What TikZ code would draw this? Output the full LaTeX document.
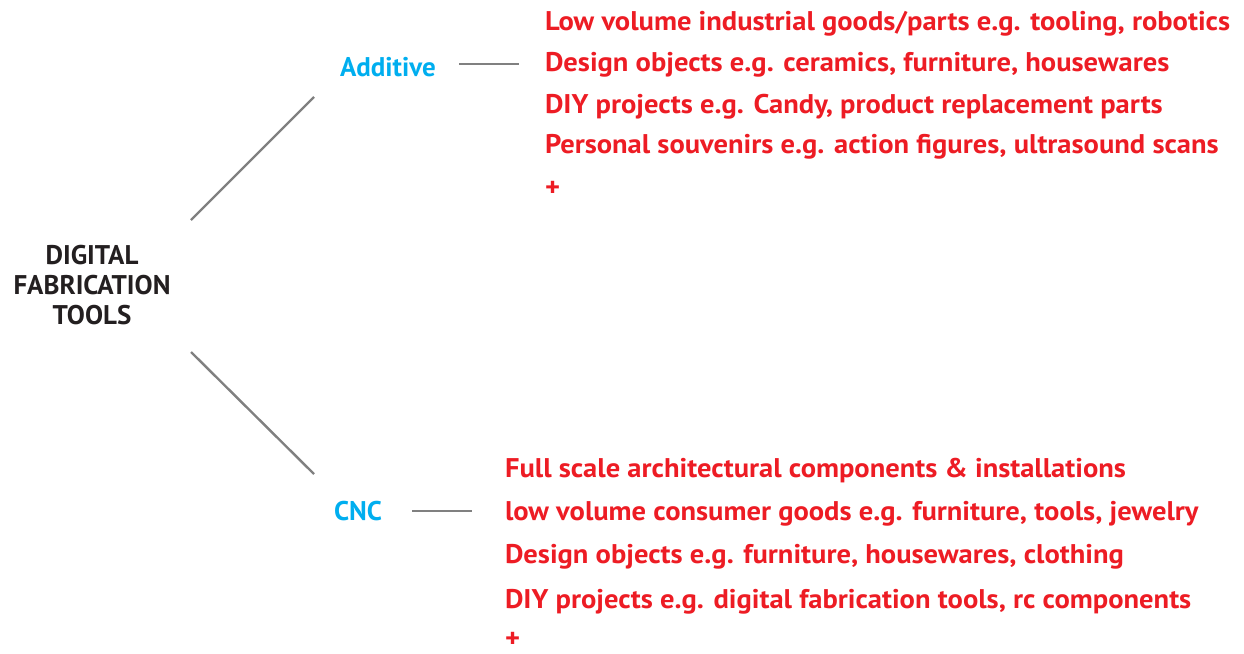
\documentclass[tikz,border=0pt]{standalone}
\usepackage{fontspec}
\setmainfont{PT Sans}
\newfontfamily\itemfont[FakeStretch=1.057]{PT Sans}
\definecolor{dinred}{HTML}{ED1C24}
\definecolor{dincyan}{HTML}{00AEEF}
\definecolor{dinblack}{HTML}{231F20}
\definecolor{lngray}{HTML}{808080}
\begin{document}
\begin{tikzpicture}[x=1pt,y=-1pt,
  every node/.style={inner sep=0pt,outer sep=0pt},
  root/.style={font=\fontsize{27}{30}\selectfont\bfseries,text=dinblack,align=center},
  branch/.style={font=\fontsize{27}{30}\selectfont\bfseries,text=dincyan,anchor=base west},
  item/.style={font=\itemfont\fontsize{27}{30}\selectfont\bfseries,text=dinred,anchor=base west},
  conn/.style={draw=lngray,line width=2.4pt}]
\useasboundingbox (0,0) rectangle (1244,653);
\node[root] (root) at (92,285) {DIGITAL\\FABRICATION\\TOOLS};
\node[branch] (add) at (340,76) {Additive};
\node[branch] (cnc) at (334,520) {CNC};
% connectors
\coordinate (r1) at (191,220);
\coordinate (a1) at (314,97);
\coordinate (r2) at (191,352);
\coordinate (c1) at (314,474);
\coordinate (a2) at (459,64);
\coordinate (a3) at (519,64);
\coordinate (c2) at (412,511);
\coordinate (c3) at (472,511);
\draw[conn] (r1) -- (a1);
\draw[conn] (r2) -- (c1);
\draw[conn] (a2) -- (a3);
\draw[conn] (c2) -- (c3);
% additive items
\node[item] (a-i1) at (545,30) {Low volume industrial goods/parts e.g. tooling, robotics};
\node[item] (a-i2) at (545,71) {Design objects e.g. ceramics, furniture, housewares};
\node[item] (a-i3) at (545,113) {DIY projects e.g. Candy, product replacement parts};
\node[item] (a-i4) at (545,153) {Personal souvenirs e.g. action figures, ultrasound scans};
\node[item] (a-i5) at (545,196) {+};
% cnc items
\node[item] (c-i1) at (505,477) {Full scale architectural components \& installations};
\node[item] (c-i2) at (505,520) {low volume consumer goods e.g. furniture, tools, jewelry};
\node[item] (c-i3) at (505,563) {Design objects e.g. furniture, housewares, clothing};
\node[item] (c-i4) at (505,608) {DIY projects e.g. digital fabrication tools, rc components};
\node[item] (c-i5) at (505,647) {+};
\end{tikzpicture}
\end{document}
